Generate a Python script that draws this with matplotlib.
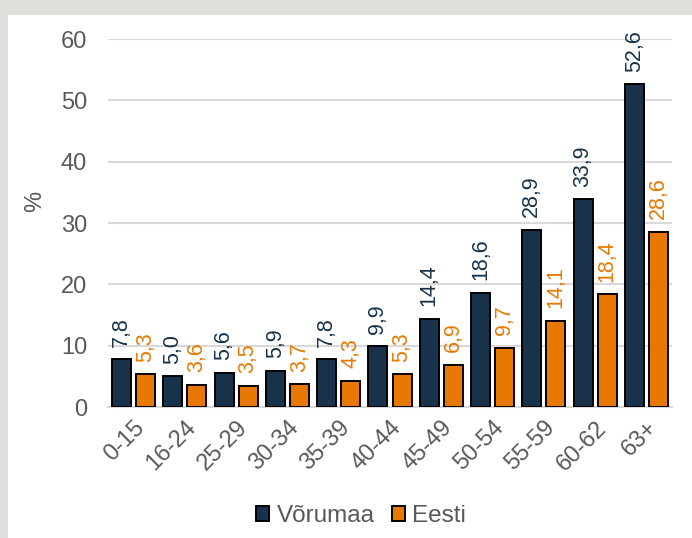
import numpy as np
import matplotlib.pyplot as plt
from matplotlib.patches import Rectangle, Patch

plt.rcParams["font.family"] = ["Liberation Sans", "DejaVu Sans"]

# ── Data ──────────────────────────────────────────────────────────
categories = ["0-15", "16-24", "25-29", "30-34", "35-39", "40-44",
              "45-49", "50-54", "55-59", "60-62", "63+"]
vorumaa = [7.8, 5.0, 5.6, 5.9, 7.8, 9.9, 14.4, 18.6, 28.9, 33.9, 52.6]
eesti = [5.3, 3.6, 3.5, 3.7, 4.3, 5.3, 6.9, 9.7, 14.1, 18.4, 28.6]
series_names = ["Võrumaa", "Eesti"]

NAVY = "#17324a"
ORANGE = "#e87800"
GRAY = "#595959"

fig = plt.figure(figsize=(6.92, 5.38), dpi=100)
fig.patch.set_facecolor("white")

# light gray frame on top and left
fig.patches.append(Rectangle((0, 1 - 15 / 538), 1, 15 / 538, transform=fig.transFigure,
                             facecolor="#e0dfdb", edgecolor="none", zorder=0))
fig.patches.append(Rectangle((0, 0), 8 / 692, 1, transform=fig.transFigure,
                             facecolor="#e0dfdb", edgecolor="none", zorder=0))

ax = fig.add_axes([108 / 692, 131 / 538, 564 / 692, 368 / 538])

x = np.arange(len(categories))
w = 0.37
off = 0.235
b1 = ax.bar(x - off, vorumaa, w, color=NAVY, edgecolor="black", linewidth=1.4, zorder=3)
b2 = ax.bar(x + off, eesti, w, color=ORANGE, edgecolor="black", linewidth=1.4, zorder=3)

for bars, vals, col in [(b1, vorumaa, NAVY), (b2, eesti, ORANGE)]:
    for b, v in zip(bars, vals):
        ax.annotate(f"{v:.1f}".replace(".", ","),
                    (b.get_x() + b.get_width() / 2, v),
                    xytext=(0, 9), textcoords="offset points",
                    rotation=90, ha="center", va="bottom",
                    fontsize=15.5, color=col, annotation_clip=False)

ax.set_xlim(-0.5, len(categories) - 0.5)
ax.set_ylim(0, 60)
ax.set_yticks(range(0, 61, 10))
ax.yaxis.grid(True, color="#d9d9d9", linewidth=1.5, zorder=0)
ax.set_axisbelow(True)
for s in ["top", "right", "left"]:
    ax.spines[s].set_visible(False)
ax.spines["bottom"].set_color("#d9d9d9")
ax.spines["bottom"].set_linewidth(1.5)
ax.tick_params(axis="both", length=0, colors=GRAY, labelsize=17)
ax.tick_params(axis="y", pad=15)
ax.set_xticks(x)
ax.set_xticklabels(categories, rotation=45, ha="right", rotation_mode="anchor")
ax.tick_params(axis="x", pad=7)

fig.text(35 / 692, 1 - 201 / 538, "%", rotation=90, ha="center", va="center",
         color=GRAY, fontsize=17)

handles = [Patch(facecolor=NAVY, edgecolor="black", linewidth=1.4),
           Patch(facecolor=ORANGE, edgecolor="black", linewidth=1.4)]
fig.legend(handles, series_names, loc="center", bbox_to_anchor=(361 / 692, 1 - 516 / 538),
           ncol=2, frameon=False, fontsize=17.5, labelcolor=GRAY,
           handlelength=0.55, handleheight=0.55, handletextpad=0.3, columnspacing=0.7,
           borderpad=0)

fig.savefig("out.png", dpi=100, facecolor=fig.get_facecolor())
